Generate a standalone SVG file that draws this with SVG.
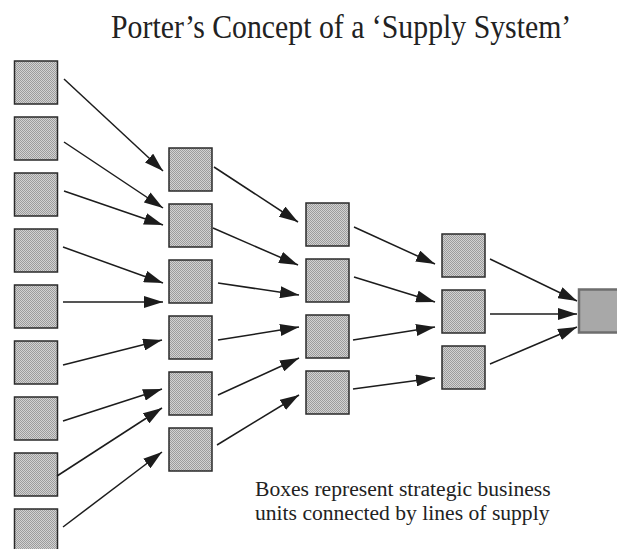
<svg xmlns="http://www.w3.org/2000/svg" width="617" height="549" viewBox="0 0 617 549">
  <style>
    .unit { fill: url(#halftone); stroke: #2a2a2a; stroke-width: 1.5; }
    .final { fill: #a8a8a8; stroke: #6e6e6e; stroke-width: 2.5; }
    .supply { stroke: #1c1c1c; stroke-width: 1.5; fill: none; marker-end: url(#head); }
    .title { font-family: "Liberation Serif", "Times New Roman", serif; font-size: 29.8px; fill: #222; }
    .note { font-family: "Liberation Serif", "Times New Roman", serif; font-size: 21.6px; fill: #222; }
  </style>
  <defs>
    <!-- dithered grey fill of the business-unit boxes -->
    <pattern id="halftone" width="2" height="2" patternUnits="userSpaceOnUse">
      <rect width="2" height="2" fill="#d2d2d2"/>
      <rect width="1" height="1" fill="#9c9c9c"/>
      <rect x="1" y="1" width="1" height="1" fill="#9c9c9c"/>
    </pattern>
    <marker id="head" markerUnits="userSpaceOnUse" markerWidth="19" markerHeight="12" viewBox="0 0 19 12" refX="19" refY="6" orient="auto">
      <path d="M0,0 L19,6 L0,12 Z" fill="#1c1c1c"/>
    </marker>
  </defs>

  <rect width="617" height="549" fill="#ffffff"/>

  <g id="title">
    <text class="title" transform="translate(111,38) scale(1,1.12)">Porter’s Concept of a ‘Supply System’</text>
  </g>

  <!-- tier 1: raw suppliers -->
  <g id="tier1">
    <g id="t1-1"><rect class="unit" x="14.5" y="61" width="43" height="43"/></g>
    <g id="t1-2"><rect class="unit" x="14.5" y="117" width="43" height="43"/></g>
    <g id="t1-3"><rect class="unit" x="14.5" y="173" width="43" height="43"/></g>
    <g id="t1-4"><rect class="unit" x="14.5" y="229" width="43" height="43"/></g>
    <g id="t1-5"><rect class="unit" x="14.5" y="285" width="43" height="43"/></g>
    <g id="t1-6"><rect class="unit" x="14.5" y="341" width="43" height="43"/></g>
    <g id="t1-7"><rect class="unit" x="14.5" y="397" width="43" height="43"/></g>
    <g id="t1-8"><rect class="unit" x="14.5" y="453" width="43" height="43"/></g>
    <g id="t1-9"><rect class="unit" x="14.5" y="509" width="43" height="43"/></g>
  </g>

  <!-- tier 2 -->
  <g id="tier2">
    <g id="t2-1"><rect class="unit" x="169" y="148" width="43" height="43"/></g>
    <g id="t2-2"><rect class="unit" x="169" y="204" width="43" height="43"/></g>
    <g id="t2-3"><rect class="unit" x="169" y="260" width="43" height="43"/></g>
    <g id="t2-4"><rect class="unit" x="169" y="316" width="43" height="43"/></g>
    <g id="t2-5"><rect class="unit" x="169" y="372" width="43" height="43"/></g>
    <g id="t2-6"><rect class="unit" x="169" y="428" width="43" height="43"/></g>
  </g>

  <!-- tier 3 -->
  <g id="tier3">
    <g id="t3-1"><rect class="unit" x="306" y="203" width="43" height="43"/></g>
    <g id="t3-2"><rect class="unit" x="306" y="259" width="43" height="43"/></g>
    <g id="t3-3"><rect class="unit" x="306" y="315" width="43" height="43"/></g>
    <g id="t3-4"><rect class="unit" x="306" y="371" width="43" height="43"/></g>
  </g>

  <!-- tier 4 -->
  <g id="tier4">
    <g id="t4-1"><rect class="unit" x="442" y="234" width="43" height="43"/></g>
    <g id="t4-2"><rect class="unit" x="442" y="290" width="43" height="43"/></g>
    <g id="t4-3"><rect class="unit" x="442" y="346" width="43" height="43"/></g>
  </g>

  <!-- final business unit -->
  <g id="t5-1"><rect class="final" x="579" y="289.5" width="44" height="43"/></g>

  <!-- lines of supply -->
  <g id="connectors">
    <line class="supply" x1="64" y1="79" x2="163" y2="171"/>
    <line class="supply" x1="64" y1="142" x2="163" y2="208"/>
    <line class="supply" x1="64" y1="191" x2="163" y2="225"/>
    <line class="supply" x1="63" y1="247" x2="163" y2="283"/>
    <line class="supply" x1="63" y1="302" x2="163" y2="302"/>
    <line class="supply" x1="63" y1="365" x2="162" y2="340"/>
    <line class="supply" x1="63" y1="421" x2="162" y2="389"/>
    <line class="supply" x1="57" y1="476" x2="162" y2="408"/>
    <line class="supply" x1="63" y1="527" x2="162" y2="452"/>

    <line class="supply" x1="214" y1="167" x2="298" y2="222"/>
    <line class="supply" x1="213" y1="228" x2="298" y2="265"/>
    <line class="supply" x1="218" y1="283" x2="299" y2="295"/>
    <line class="supply" x1="218" y1="340" x2="299" y2="327"/>
    <line class="supply" x1="218" y1="395" x2="299" y2="358"/>
    <line class="supply" x1="217" y1="445" x2="299" y2="395"/>

    <line class="supply" x1="354" y1="227" x2="435" y2="264"/>
    <line class="supply" x1="354" y1="277" x2="435" y2="302"/>
    <line class="supply" x1="353" y1="340" x2="435" y2="327"/>
    <line class="supply" x1="353" y1="389" x2="435" y2="378"/>

    <line class="supply" x1="490" y1="259" x2="577" y2="301"/>
    <line class="supply" x1="490" y1="314" x2="577" y2="314"/>
    <line class="supply" x1="490" y1="364" x2="577" y2="327"/>
  </g>

  <g id="caption">
    <text class="note" x="255" y="496">Boxes represent strategic business</text>
    <text class="note" x="255" y="520">units connected by lines of supply</text>
  </g>
</svg>
